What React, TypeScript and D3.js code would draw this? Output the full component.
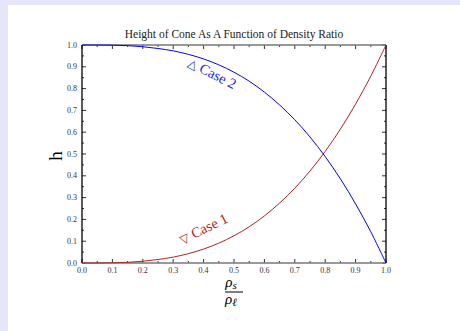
import React from "react";
import * as d3 from "d3";

const xValues = [0, 0.05, 0.1, 0.15, 0.2, 0.25, 0.3, 0.35, 0.4, 0.45, 0.5, 0.55, 0.6, 0.65, 0.7, 0.75, 0.8, 0.85, 0.9, 0.95, 1.0];
const case1 = [0, 0.0001, 0.001, 0.003, 0.008, 0.016, 0.027, 0.043, 0.064, 0.091, 0.125, 0.166, 0.216, 0.275, 0.343, 0.422, 0.512, 0.614, 0.729, 0.857, 1.0];
const case2 = [1.0, 0.9999, 0.999, 0.997, 0.992, 0.984, 0.973, 0.957, 0.936, 0.909, 0.875, 0.834, 0.784, 0.725, 0.657, 0.578, 0.488, 0.386, 0.271, 0.143, 0.0];
const majorTicks = [0, 0.1, 0.2, 0.3, 0.4, 0.5, 0.6, 0.7, 0.8, 0.9, 1.0];
const minorTicks = [0.05, 0.15, 0.25, 0.35, 0.45, 0.55, 0.65, 0.75, 0.85, 0.95];
const title = "Height of Cone As A Function of Density Ratio";

export default function App() {
  const W = 460, H = 331;
  const L = 82, R = 386, T = 45, B = 263;
  const x = d3.scaleLinear().domain([0, 1]).range([L, R]);
  const y = d3.scaleLinear().domain([0, 1]).range([B, T]);
  const line = d3.line<number>().x((_, i) => x(xValues[i])).y((d) => y(d)).curve(d3.curveCatmullRom);
  const serif = "'Liberation Serif', 'DejaVu Serif', serif";
  const tickCol = "#333";
  const cx = (L + R) / 2;
  return (
    <div style={{ position: "fixed", left: 0, top: 0, width: W, height: H }}>
      <svg width={W} height={H} style={{ display: "block" }}>
        <rect x={0} y={0} width={W} height={H} fill="#e6e6fa" />
        <rect x={8} y={5} width={W - 8} height={H - 5} fill="#ffffff" />
        <text x={cx} y={38} textAnchor="middle" fontFamily={serif} fontSize={11.5} fill="#222">{title}</text>
        {majorTicks.map((t) => (
          <g key={"M" + t}>
            <line x1={x(t)} x2={x(t)} y1={B} y2={B - 4} stroke={tickCol} strokeWidth={1} />
            <line x1={x(t)} x2={x(t)} y1={T} y2={T + 4} stroke={tickCol} strokeWidth={1} />
            <line x1={L} x2={L + 4} y1={y(t)} y2={y(t)} stroke={tickCol} strokeWidth={1} />
            <line x1={R} x2={R - 4} y1={y(t)} y2={y(t)} stroke={tickCol} strokeWidth={1} />
            <text x={x(t)} y={B + 10} textAnchor="middle" fontFamily={serif} fontSize={8} fill="#333">{t.toFixed(1)}</text>
            <text x={L - 5} y={y(t) + 2.5} textAnchor="end" fontFamily={serif} fontSize={8} fill="#333">{t.toFixed(1)}</text>
          </g>
        ))}
        {minorTicks.map((t) => (
          <g key={"m" + t}>
            <line x1={x(t)} x2={x(t)} y1={B} y2={B - 2} stroke={tickCol} strokeWidth={1} />
            <line x1={x(t)} x2={x(t)} y1={T} y2={T + 2} stroke={tickCol} strokeWidth={1} />
            <line x1={L} x2={L + 2} y1={y(t)} y2={y(t)} stroke={tickCol} strokeWidth={1} />
            <line x1={R} x2={R - 2} y1={y(t)} y2={y(t)} stroke={tickCol} strokeWidth={1} />
          </g>
        ))}
        <line x1={L} x2={R} y1={T} y2={T} stroke="#777" strokeWidth={1.3} />
        <line x1={L} x2={R} y1={B} y2={B} stroke="#777" strokeWidth={1.3} />
        <line x1={L} x2={L} y1={T} y2={B} stroke="#000" strokeWidth={1.3} />
        <line x1={R} x2={R} y1={T} y2={B} stroke="#000" strokeWidth={1.3} />
        <path d={line(case1) || ""} fill="none" stroke="#b22222" strokeWidth={1} />
        <path d={line(case2) || ""} fill="none" stroke="#0000ff" strokeWidth={1} />
        <text transform={`translate(${x(0.33)},${y(0.085)}) rotate(-26)`} fontFamily={serif} fontSize={14.5} fill="#b22222">
          <tspan fontFamily="'DejaVu Sans', sans-serif" fontSize={12}>▽</tspan> Case 1
        </text>
        <text transform={`translate(${x(0.345)},${y(0.905)}) rotate(27)`} fontFamily={serif} fontSize={14.5} fill="#2222ee">
          <tspan fontFamily="'DejaVu Sans', sans-serif" fontSize={12}>△</tspan> Case 2
        </text>
        <text transform={`translate(62,${(T + B) / 2 + 2}) rotate(-90)`} textAnchor="middle" fontFamily={serif} fontSize={19} fill="#000">h</text>
        <text x={cx - 3} y={287} textAnchor="middle" fontFamily={serif} fontStyle="italic" fontSize={15} fill="#000">ρ<tspan fontSize={11} dy={2}>s</tspan></text>
        <line x1={cx - 9} x2={cx + 9} y1={292} y2={292} stroke="#000" strokeWidth={1} />
        <text x={cx - 3} y={304} textAnchor="middle" fontFamily={serif} fontStyle="italic" fontSize={15} fill="#000">ρ<tspan fontSize={11} dy={2}>ℓ</tspan></text>
      </svg>
    </div>
  );
}
